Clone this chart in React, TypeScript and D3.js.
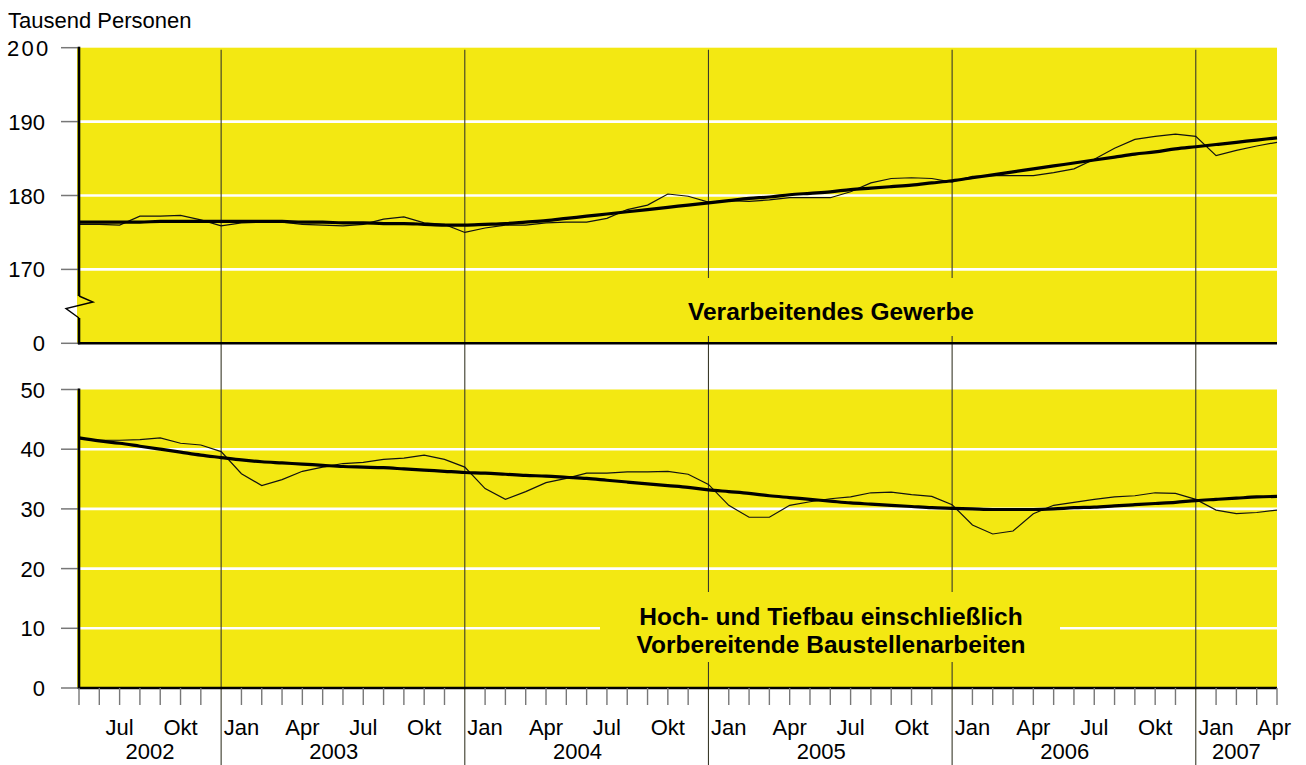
import React from "react";
import * as d3 from "d3";

// ---------- data ----------
const monthNames = [
  "Mai", "Jun", "Jul", "Aug", "Sep", "Okt", "Nov", "Dez",
  "Jan", "Feb", "Mär", "Apr", "Mai", "Jun", "Jul", "Aug", "Sep", "Okt", "Nov", "Dez",
  "Jan", "Feb", "Mär", "Apr", "Mai", "Jun", "Jul", "Aug", "Sep", "Okt", "Nov", "Dez",
  "Jan", "Feb", "Mär", "Apr", "Mai", "Jun", "Jul", "Aug", "Sep", "Okt", "Nov", "Dez",
  "Jan", "Feb", "Mär", "Apr", "Mai", "Jun", "Jul", "Aug", "Sep", "Okt", "Nov", "Dez",
  "Jan", "Feb", "Mär", "Apr",
];
const labelledMonths = ["Jan", "Apr", "Jul", "Okt"];
const years = ["2002", "2003", "2004", "2005", "2006", "2007"];

const manufacturingActual = [
  176.1, 176.1, 176.0, 177.2, 177.2, 177.3, 176.7, 175.9,
  176.3, 176.4, 176.4, 176.1, 176.0, 175.9, 176.1, 176.8, 177.1, 176.3, 176.1, 175.0,
  175.6, 176.0, 176.0, 176.3, 176.4, 176.4, 176.9, 178.1, 178.7, 180.2, 179.9, 179.1,
  179.3, 179.2, 179.4, 179.7, 179.7, 179.7, 180.5, 181.7, 182.3, 182.4, 182.3, 181.8,
  182.6, 182.7, 182.7, 182.7, 183.1, 183.6, 184.9, 186.4, 187.6, 188.0, 188.3, 188.0,
  185.4, 186.1, 186.7, 187.2,
];
const manufacturingTrend = [
  176.4, 176.4, 176.4, 176.4, 176.5, 176.5, 176.5, 176.5,
  176.5, 176.5, 176.5, 176.4, 176.4, 176.3, 176.3, 176.2, 176.2, 176.1, 176.0, 176.0,
  176.1, 176.2, 176.4, 176.6, 176.9, 177.2, 177.5, 177.8, 178.1, 178.4, 178.7, 179.0,
  179.3, 179.6, 179.8, 180.1, 180.3, 180.5, 180.8, 181.0, 181.2, 181.4, 181.7, 182.0,
  182.4, 182.8, 183.2, 183.6, 184.0, 184.4, 184.8, 185.2, 185.6, 185.9, 186.3, 186.6,
  186.9, 187.2, 187.5, 187.8,
];
const constructionActual = [
  41.75, 41.5, 41.5, 41.6, 41.9, 41.0, 40.7, 39.6,
  35.9, 33.9, 34.9, 36.3, 37.0, 37.6, 37.8, 38.3, 38.5, 39.0, 38.3, 37.0,
  33.4, 31.6, 32.9, 34.4, 35.1, 36.0, 36.0, 36.2, 36.2, 36.3, 35.8, 34.1,
  30.6, 28.6, 28.6, 30.6, 31.2, 31.7, 32.0, 32.7, 32.8, 32.4, 32.1, 30.7,
  27.3, 25.8, 26.3, 29.2, 30.6, 31.1, 31.6, 32.0, 32.2, 32.7, 32.6, 31.6,
  29.8, 29.2, 29.4, 29.8,
];
const constructionTrend = [
  41.9, 41.4, 41.0, 40.5, 40.0, 39.5, 39.0, 38.6,
  38.2, 37.9, 37.7, 37.5, 37.3, 37.1, 37.0, 36.9, 36.7, 36.5, 36.3, 36.1,
  36.0, 35.8, 35.6, 35.5, 35.3, 35.1, 34.8, 34.5, 34.2, 33.9, 33.6, 33.2,
  32.9, 32.6, 32.2, 31.9, 31.6, 31.3, 31.0, 30.8, 30.6, 30.4, 30.2, 30.1,
  30.0, 29.9, 29.9, 29.9, 30.0, 30.2, 30.3, 30.5, 30.7, 30.9, 31.1, 31.4,
  31.6, 31.8, 32.0, 32.1,
];

const topTicks = [200, 190, 180, 170, 160];
const topTickLabels = ["200", "190", "180", "170", "0"];
const bottomTicks = [50, 40, 30, 20, 10, 0];
const bottomTickLabels = ["50", "40", "30", "20", "10", "0"];

const unitLabel = "Tausend Personen";
const topSeriesLabel = ["Verarbeitendes Gewerbe"];
const bottomSeriesLabel = ["Hoch- und Tiefbau einschließlich", "Vorbereitende Baustellenarbeiten"];

// ---------- layout ----------
const W = 1306;
const H = 765;
const X0 = 79;
const X1 = 1277;
const YELLOW = "#F3E812";
const FONT = "'Liberation Sans', Arial, Helvetica, sans-serif";

export default function App() {
  const x = d3.scaleLinear().domain([0, monthNames.length - 1]).range([X0, X1]);
  const yTop = d3.scaleLinear().domain([160, 200]).range([343.3, 47.7]);
  const yBot = d3.scaleLinear().domain([0, 50]).range([688, 389.5]);

  const lineTop = d3
    .line<number>()
    .x((_, i) => x(i))
    .y((d) => yTop(d));
  const lineTopSmooth = d3
    .line<number>()
    .x((_, i) => x(i))
    .y((d) => yTop(d))
    .curve(d3.curveMonotoneX);
  const lineBot = d3
    .line<number>()
    .x((_, i) => x(i))
    .y((d) => yBot(d));
  const lineBotSmooth = d3
    .line<number>()
    .x((_, i) => x(i))
    .y((d) => yBot(d))
    .curve(d3.curveMonotoneX);

  // year boundaries: at every December
  const decIdx = monthNames.map((m, i) => (m === "Dez" ? i : -1)).filter((i) => i >= 0);
  const bounds = [0, ...decIdx, monthNames.length - 1];
  const yearCenters = years.map((_, k) => {
    const a = bounds[k];
    const b = bounds[k + 1];
    const full = b - a === 12;
    return x((a + b) / 2 - (full ? 0.45 : 0));
  });

  const topAxisY = yTop(160);
  const botAxisY = yBot(0);
  const step = x(1) - x(0);

  // label background boxes
  const topBox = { x0: 650, x1: 1012, y0: 278, y1: 336 };
  const botBox = { x0: 600, x1: 1060, y0: 592, y1: 662 };

  return (
    <svg
      width={W}
      height={H}
      style={{ position: "absolute", left: 0, top: 0, background: "#fff" }}
      fontFamily={FONT}
    >
      {/* panel backgrounds */}
      <rect x={X0 - 2} y={yTop(200)} width={X1 - X0 + 2} height={topAxisY - yTop(200)} fill={YELLOW} />
      <rect x={X0 - 2} y={yBot(50)} width={X1 - X0 + 2} height={botAxisY - yBot(50)} fill={YELLOW} />

      {/* white gridlines */}
      {topTicks
        .filter((t) => t !== 200 && t !== 160)
        .map((t) => (
          <line key={"gt" + t} x1={X0} x2={X1} y1={yTop(t)} y2={yTop(t)} stroke="#fff" strokeWidth={2.6} />
        ))}
      {bottomTicks
        .filter((t) => t !== 50 && t !== 0)
        .map((t) => (
          <line key={"gb" + t} x1={X0} x2={X1} y1={yBot(t)} y2={yBot(t)} stroke="#fff" strokeWidth={2.6} />
        ))}

      {/* year separator lines */}
      {decIdx.map((i) => (
        <line
          key={"yl" + i}
          x1={x(i)}
          x2={x(i)}
          y1={yTop(200) + 2}
          y2={H}
          stroke="#3a3a2a"
          strokeWidth={1.1}
        />
      ))}

      {/* label boxes */}
      <rect x={topBox.x0} y={topBox.y0} width={topBox.x1 - topBox.x0} height={topBox.y1 - topBox.y0} fill={YELLOW} />
      <rect x={botBox.x0} y={botBox.y0} width={botBox.x1 - botBox.x0} height={botBox.y1 - botBox.y0} fill={YELLOW} />

      {topSeriesLabel.map((t, k) => (
        <text key={"tl" + k} x={831} y={320 + k * 28} textAnchor="middle" fontSize={24.5} fontWeight="bold" fill="#000">
          {t}
        </text>
      ))}
      {bottomSeriesLabel.map((t, k) => (
        <text key={"bl" + k} x={831} y={625 + k * 28} textAnchor="middle" fontSize={24.5} fontWeight="bold" fill="#000">
          {t}
        </text>
      ))}

      {/* data lines */}
      <path d={lineTop(manufacturingActual) || ""} fill="none" stroke="#111" strokeWidth={1.2} />
      <path d={lineTopSmooth(manufacturingTrend) || ""} fill="none" stroke="#000" strokeWidth={3.2} />
      <path d={lineBot(constructionActual) || ""} fill="none" stroke="#111" strokeWidth={1.2} />
      <path d={lineBotSmooth(constructionTrend) || ""} fill="none" stroke="#000" strokeWidth={3.2} />

      {/* y tick marks */}
      {topTicks.map((t) => (
        <line key={"tt" + t} x1={61} x2={X0} y1={yTop(t)} y2={yTop(t)} stroke="#777" strokeWidth={1.5} />
      ))}
      {bottomTicks.map((t) => (
        <line key={"bt" + t} x1={61} x2={X0} y1={yBot(t)} y2={yBot(t)} stroke="#777" strokeWidth={1.5} />
      ))}

      {/* y tick labels */}
      {topTicks.map((t, k) =>
        k === 0 ? (
          <text key={"ttl" + t} x={7} y={yTop(t) + 8} fontSize={22} letterSpacing={2.3} fill="#000">
            {topTickLabels[k]}
          </text>
        ) : (
          <text key={"ttl" + t} x={45} y={yTop(t) + 8} fontSize={22} textAnchor="end" fill="#000">
            {topTickLabels[k]}
          </text>
        )
      )}
      {bottomTicks.map((t, k) => (
        <text key={"btl" + t} x={45} y={yBot(t) + 8} fontSize={22} textAnchor="end" fill="#000">
          {bottomTickLabels[k]}
        </text>
      ))}

      {/* axes */}
      <line x1={X0} x2={X0} y1={yTop(200) - 1} y2={296} stroke="#000" strokeWidth={2.6} />
      <line x1={X0} x2={X0} y1={318} y2={topAxisY + 1} stroke="#000" strokeWidth={2.6} />
      <path d="M79,296 L93,302 L66,308.5 L79,318" fill="none" stroke="#000" strokeWidth={1.4} />
      <line x1={X0 - 1} x2={X1} y1={topAxisY} y2={topAxisY} stroke="#000" strokeWidth={2.6} />
      <line x1={X0} x2={X0} y1={yBot(50) - 1} y2={botAxisY + 1} stroke="#000" strokeWidth={2.6} />
      <line x1={X0 - 1} x2={X1} y1={botAxisY} y2={botAxisY} stroke="#000" strokeWidth={2.6} />

      {/* month ticks */}
      {monthNames.map((m, i) =>
        decIdx.includes(i) ? null : (
          <line key={"mt" + i} x1={x(i)} x2={x(i)} y1={botAxisY} y2={botAxisY + 17} stroke="#777" strokeWidth={1.4} />
        )
      )}

      {/* month labels */}
      {monthNames.map((m, i) =>
        labelledMonths.includes(m) ? (
          <text
            key={"ml" + i}
            x={i === monthNames.length - 1 ? x(i) - 3 : x(i)}
            y={735}
            fontSize={22}
            textAnchor="middle"
            fill="#000"
          >
            {m}
          </text>
        ) : null
      )}

      {/* year labels */}
      {years.map((yv, k) => (
        <text key={"yr" + yv} x={yearCenters[k]} y={759} fontSize={22} textAnchor="middle" fill="#000">
          {yv}
        </text>
      ))}

      {/* unit */}
      <text x={8} y={28} fontSize={22} fill="#000">
        {unitLabel}
      </text>
    </svg>
  );
}
